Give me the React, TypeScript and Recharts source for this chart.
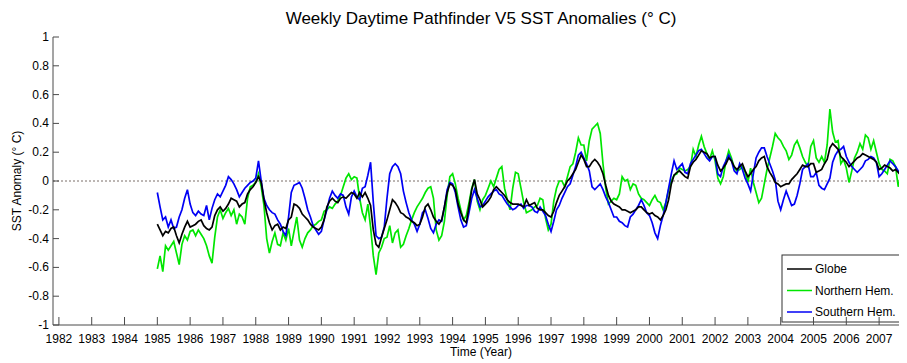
import React from 'react';
import { LineChart, Line, XAxis, YAxis, ReferenceLine, Customized } from 'recharts';

// Monthly samples of the weekly anomaly record, starting January 1985.
const START_YEAR = 1985;

const globe = [
  -0.30, -0.34, -0.38, -0.35, -0.36, -0.33, -0.32, -0.38, -0.43, -0.37, -0.32, -0.28, // 1985
  -0.32, -0.31, -0.30, -0.28, -0.27, -0.31, -0.33, -0.34, -0.32, -0.24, -0.20, -0.18, // 1986
  -0.21, -0.19, -0.16, -0.12, -0.13, -0.14, -0.18, -0.16, -0.15, -0.09, -0.06, -0.04, // 1987
  -0.01, 0.03, -0.01, -0.13, -0.22, -0.29, -0.34, -0.31, -0.30, -0.34, -0.32, -0.33, // 1988
  -0.27, -0.25, -0.16, -0.17, -0.19, -0.23, -0.25, -0.27, -0.30, -0.32, -0.33, -0.34, // 1989
  -0.32, -0.27, -0.18, -0.14, -0.12, -0.14, -0.15, -0.12, -0.11, -0.12, -0.10, -0.08, // 1990
  -0.09, -0.12, -0.08, -0.11, -0.08, -0.12, -0.17, -0.34, -0.44, -0.46, -0.39, -0.33, // 1991
  -0.27, -0.20, -0.13, -0.15, -0.18, -0.22, -0.23, -0.25, -0.26, -0.28, -0.29, -0.31, // 1992
  -0.30, -0.25, -0.18, -0.16, -0.20, -0.25, -0.28, -0.30, -0.27, -0.18, -0.08, -0.02, // 1993
  -0.03, -0.06, -0.16, -0.22, -0.27, -0.29, -0.18, -0.06, 0.01, -0.09, -0.13, -0.18, // 1994
  -0.16, -0.14, -0.11, -0.06, -0.04, -0.06, -0.08, -0.10, -0.13, -0.15, -0.16, -0.16, // 1995
  -0.16, -0.17, -0.18, -0.13, -0.17, -0.16, -0.15, -0.19, -0.20, -0.20, -0.22, -0.24, // 1996
  -0.25, -0.21, -0.15, -0.10, -0.07, -0.04, 0.00, 0.02, 0.05, 0.08, 0.13, 0.18, // 1997
  0.15, 0.10, 0.10, 0.13, 0.15, 0.13, 0.10, 0.05, -0.03, -0.10, -0.14, -0.16, // 1998
  -0.17, -0.18, -0.20, -0.20, -0.21, -0.22, -0.21, -0.20, -0.18, -0.18, -0.20, -0.22, // 1999
  -0.23, -0.22, -0.24, -0.25, -0.27, -0.24, -0.20, -0.13, -0.02, 0.04, 0.06, 0.07, // 2000
  0.05, 0.03, 0.02, 0.10, 0.13, 0.15, 0.18, 0.21, 0.20, 0.19, 0.16, 0.17, // 2001
  0.17, 0.11, 0.07, 0.09, 0.12, 0.16, 0.14, 0.10, 0.08, 0.10, 0.12, 0.07, // 2002
  0.03, 0.05, 0.08, 0.10, 0.14, 0.16, 0.17, 0.10, 0.06, 0.03, -0.01, -0.02, // 2003
  -0.04, -0.03, -0.02, -0.02, 0.01, 0.03, 0.05, 0.08, 0.11, 0.10, 0.10, 0.12, // 2004
  0.12, 0.06, 0.07, 0.08, 0.12, 0.15, 0.23, 0.26, 0.24, 0.22, 0.17, 0.15, // 2005
  0.13, 0.10, 0.12, 0.14, 0.16, 0.17, 0.19, 0.18, 0.17, 0.16, 0.15, 0.13, // 2006
  0.08, 0.09, 0.11, 0.10, 0.09, 0.07, 0.08, 0.06, 0.04, 0.01, -0.01, // 2007
];

const northern = [
  -0.61, -0.52, -0.63, -0.45, -0.48, -0.45, -0.42, -0.50, -0.58, -0.44, -0.38, -0.41, // 1985
  -0.35, -0.34, -0.38, -0.34, -0.37, -0.40, -0.45, -0.52, -0.57, -0.39, -0.25, -0.20, // 1986
  -0.26, -0.22, -0.19, -0.24, -0.20, -0.30, -0.23, -0.25, -0.30, -0.12, -0.04, -0.03, // 1987
  -0.01, 0.05, -0.04, -0.17, -0.40, -0.50, -0.42, -0.36, -0.44, -0.45, -0.36, -0.41, // 1988
  -0.33, -0.45, -0.35, -0.25, -0.41, -0.46, -0.40, -0.36, -0.34, -0.31, -0.30, -0.28, // 1989
  -0.27, -0.21, -0.20, -0.18, -0.19, -0.16, -0.14, -0.10, -0.04, 0.02, 0.05, 0.01, // 1990
  0.03, 0.02, -0.12, -0.22, -0.27, -0.16, -0.32, -0.52, -0.65, -0.50, -0.46, -0.40, // 1991
  -0.39, -0.31, -0.43, -0.36, -0.34, -0.46, -0.44, -0.38, -0.33, -0.27, -0.22, -0.18, // 1992
  -0.15, -0.12, -0.08, -0.05, -0.04, -0.12, -0.34, -0.41, -0.38, -0.28, -0.10, 0.03, // 1993
  0.05, -0.02, -0.12, -0.20, -0.27, -0.24, -0.15, -0.05, 0.01, -0.14, -0.20, -0.13, // 1994
  -0.10, -0.05, 0.00, -0.04, 0.02, 0.08, 0.10, -0.05, -0.13, -0.20, -0.05, 0.06, // 1995
  0.05, -0.05, -0.15, -0.22, -0.21, -0.20, -0.18, -0.17, -0.12, -0.13, -0.26, -0.34, // 1996
  -0.30, -0.14, -0.05, 0.00, 0.00, -0.04, 0.03, 0.10, 0.12, 0.20, 0.30, 0.25, // 1997
  0.25, 0.14, 0.28, 0.36, 0.38, 0.40, 0.33, 0.12, -0.05, -0.16, -0.14, -0.12, // 1998
  -0.13, -0.09, 0.03, 0.00, 0.01, -0.06, -0.02, -0.03, -0.09, -0.12, -0.13, -0.15, // 1999
  -0.17, -0.13, -0.10, -0.14, -0.15, -0.20, -0.15, -0.06, 0.00, 0.04, 0.05, 0.09, // 2000
  0.08, 0.07, 0.08, 0.10, 0.22, 0.17, 0.25, 0.31, 0.24, 0.19, 0.15, 0.21, // 2001
  0.14, 0.02, -0.02, 0.03, 0.14, 0.21, 0.16, 0.09, 0.07, 0.08, 0.10, 0.06, // 2002
  -0.01, 0.09, -0.01, -0.08, -0.15, -0.12, -0.02, 0.08, 0.16, 0.24, 0.33, 0.30, // 2003
  0.28, 0.24, 0.21, 0.15, 0.18, 0.25, 0.28, 0.23, 0.17, 0.13, 0.10, 0.24, // 2004
  0.28, 0.16, 0.13, 0.17, 0.13, 0.25, 0.50, 0.34, 0.27, 0.28, 0.12, 0.15, // 2005
  0.09, -0.01, 0.07, 0.16, 0.20, 0.26, 0.22, 0.32, 0.30, 0.22, 0.28, 0.20, // 2006
  0.12, 0.08, 0.07, 0.05, 0.15, 0.14, 0.10, -0.04, 0.05, 0.00, 0.02, // 2007
];

const southern = [
  -0.08, -0.18, -0.27, -0.25, -0.32, -0.27, -0.33, -0.32, -0.25, -0.20, -0.12, -0.06, // 1985
  -0.16, -0.22, -0.24, -0.21, -0.23, -0.24, -0.17, -0.27, -0.19, -0.13, -0.09, -0.11, // 1986
  -0.07, -0.03, 0.03, 0.01, -0.02, -0.06, -0.11, -0.08, -0.05, -0.03, -0.01, 0.00, // 1987
  0.02, 0.14, 0.00, -0.12, -0.17, -0.20, -0.22, -0.23, -0.27, -0.30, -0.35, -0.38, // 1988
  -0.25, -0.08, -0.03, -0.02, -0.01, -0.05, -0.12, -0.20, -0.25, -0.31, -0.34, -0.37, // 1989
  -0.35, -0.27, -0.20, -0.12, -0.07, -0.10, -0.12, -0.09, -0.10, -0.18, -0.23, -0.11, // 1990
  -0.07, -0.11, -0.13, -0.05, -0.04, 0.04, 0.13, -0.15, -0.38, -0.40, -0.39, -0.32, // 1991
  -0.12, 0.05, 0.10, 0.12, 0.10, 0.05, -0.07, -0.15, -0.22, -0.27, -0.30, -0.35, // 1992
  -0.30, -0.22, -0.20, -0.26, -0.33, -0.36, -0.30, -0.27, -0.28, -0.18, -0.06, -0.01, // 1993
  -0.02, -0.08, -0.18, -0.27, -0.32, -0.31, -0.22, -0.12, -0.06, -0.12, -0.18, -0.17, // 1994
  -0.14, -0.11, -0.09, -0.07, -0.06, -0.09, -0.10, -0.13, -0.16, -0.18, -0.20, -0.19, // 1995
  -0.17, -0.16, -0.19, -0.17, -0.17, -0.18, -0.21, -0.22, -0.18, -0.21, -0.24, -0.30, // 1996
  -0.35, -0.28, -0.20, -0.17, -0.12, -0.08, -0.04, -0.02, 0.04, 0.10, 0.18, 0.20, // 1997
  0.16, 0.12, 0.07, -0.04, -0.06, -0.04, -0.02, -0.06, -0.11, -0.15, -0.20, -0.25, // 1998
  -0.25, -0.28, -0.29, -0.31, -0.32, -0.25, -0.23, -0.20, -0.17, -0.13, -0.17, -0.22, // 1999
  -0.24, -0.29, -0.36, -0.40, -0.31, -0.24, -0.15, -0.05, 0.05, 0.14, 0.08, 0.10, // 2000
  0.12, 0.06, 0.05, 0.12, 0.15, 0.18, 0.21, 0.22, 0.19, 0.16, 0.14, 0.17, // 2001
  0.17, 0.05, 0.03, 0.10, 0.14, 0.18, 0.14, 0.07, 0.05, 0.12, 0.08, 0.02, // 2002
  -0.02, -0.07, 0.05, 0.16, 0.20, 0.23, 0.23, 0.17, 0.12, 0.07, 0.01, -0.14, // 2003
  -0.20, -0.13, -0.07, -0.12, -0.17, -0.16, -0.10, -0.02, 0.08, 0.10, 0.12, 0.03, // 2004
  0.03, 0.06, -0.03, -0.05, -0.06, -0.02, 0.02, 0.13, 0.18, 0.21, 0.22, 0.24, // 2005
  0.17, 0.13, 0.10, 0.08, 0.06, 0.08, 0.10, 0.14, 0.15, 0.17, 0.16, 0.13, // 2006
  0.03, 0.05, 0.08, 0.11, 0.14, 0.12, 0.10, 0.07, 0.04, -0.08, -0.05, // 2007
];

const yearTicks = [
  1982, 1983, 1984, 1985, 1986, 1987, 1988, 1989, 1990, 1991, 1992, 1993, 1994,
  1995, 1996, 1997, 1998, 1999, 2000, 2001, 2002, 2003, 2004, 2005, 2006, 2007,
];
const anomalyTicks = [-1, -0.8, -0.6, -0.4, -0.2, 0, 0.2, 0.4, 0.6, 0.8, 1];

const seriesInfo = [
  { key: 'globe', name: 'Globe', color: '#000000' },
  { key: 'north', name: 'Northern Hem.', color: '#00e600' },
  { key: 'south', name: 'Southern Hem.', color: '#0000f5' },
];

const data = globe.map((g, i) => ({
  t: START_YEAR + i / 12,
  globe: g,
  north: northern[i],
  south: southern[i],
}));

const AXIS = '#4a4a4a';
const FONT = 'Arial, "Liberation Sans", Helvetica, sans-serif';
const W = 899;
const H = 355;

const BottomTick = (props: any) => {
  const { x, y, payload } = props;
  return (
    <g>
      <line x1={x} y1={y} x2={x} y2={y - 8} stroke={AXIS} strokeWidth={1} />
      <text x={x} y={y + 18} textAnchor="middle" fontSize={12} fontFamily={FONT} fill="#000">
        {payload.value}
      </text>
    </g>
  );
};

const TopTick = (props: any) => {
  const { x, y } = props;
  return <line x1={x} y1={y} x2={x} y2={y + 8} stroke={AXIS} strokeWidth={1} />;
};

const LeftTick = (props: any) => {
  const { x, y, payload } = props;
  return (
    <g>
      <line x1={x} y1={y} x2={x + 6} y2={y} stroke={AXIS} strokeWidth={1} />
      <text x={x - 4} y={y + 4} textAnchor="end" fontSize={12} fontFamily={FONT} fill="#000">
        {payload.value}
      </text>
    </g>
  );
};

const Decorations = () => (
  <g fontFamily={FONT} fill="#000">
    <text x={473} y={16} textAnchor="middle" fontSize={17}>
      Weekly Daytime Pathfinder V5 SST Anomalies (° C)
    </text>
    <text x={473} y={348} textAnchor="middle" fontSize={12}>
      Time (Year)
    </text>
    <text x={13} y={173} textAnchor="middle" fontSize={12} transform="rotate(-90 13 173)">
      SST Anomaly (° C)
    </text>
    <g>
      <rect x={774} y={247} width={140} height={67} fill="#fff" stroke="#333" strokeWidth={1} />
      {seriesInfo.map((s, i) => {
        const ry = 261 + i * 21.5;
        return (
          <g key={s.key}>
            <line x1={779} y1={ry} x2={804} y2={ry} stroke={s.color} strokeWidth={1.5} />
            <text x={807} y={ry + 4} fontSize={12}>
              {s.name}
            </text>
          </g>
        );
      })}
    </g>
  </g>
);

export default function App() {
  return (
    <div style={{ width: W, height: H, overflow: 'hidden', background: '#fff' }}>
      <LineChart width={W} height={H} data={data} margin={{ top: 29, right: 0, bottom: 0, left: 0 }}>
        <XAxis
          dataKey="t"
          type="number"
          domain={[1981.82, 2007.85]}
          allowDataOverflow
          ticks={yearTicks}
          interval={0}
          height={38}
          tickSize={0}
          tickMargin={0}
          tickLine={false}
          tick={BottomTick}
          axisLine={{ stroke: AXIS }}
        />
        <XAxis
          xAxisId="top"
          orientation="top"
          dataKey="t"
          type="number"
          domain={[1981.82, 2007.85]}
          allowDataOverflow
          ticks={yearTicks}
          interval={0}
          height={0}
          tickSize={0}
          tickMargin={0}
          tickLine={false}
          tick={TopTick}
          axisLine={{ stroke: AXIS }}
        />
        <YAxis
          type="number"
          domain={[-1, 1]}
          ticks={anomalyTicks}
          interval={0}
          width={45}
          tickSize={0}
          tickMargin={0}
          tickLine={false}
          tick={LeftTick}
          axisLine={{ stroke: AXIS }}
        />
        <ReferenceLine y={0} stroke="#7a6f68" strokeDasharray="2 2" strokeWidth={1} />
        <Line dataKey="north" name="Northern Hem." stroke="#00e600" strokeWidth={1.7} dot={false} isAnimationActive={false} />
        <Line dataKey="south" name="Southern Hem." stroke="#0000f5" strokeWidth={1.7} dot={false} isAnimationActive={false} />
        <Line dataKey="globe" name="Globe" stroke="#000000" strokeWidth={1.7} dot={false} isAnimationActive={false} />
        <Customized component={Decorations} />
      </LineChart>
    </div>
  );
}
